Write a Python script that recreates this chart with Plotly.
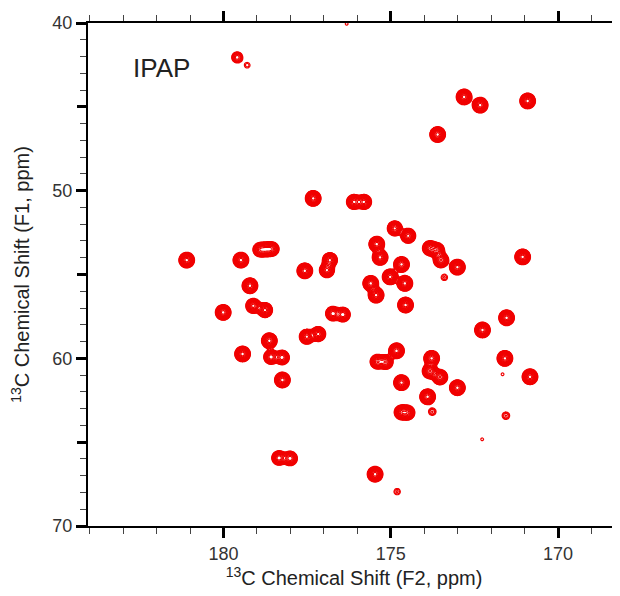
import numpy as np
import plotly.graph_objects as go

# Peak list: F2 (x, ppm), F1 (y, ppm), relative intensity
peak_f2 = [
    179.59, 179.29, 177.32, 176.10, 175.80, 181.10, 179.48, 178.91, 178.73, 178.55,
    172.81, 172.33, 170.91, 173.60, 174.88, 174.48, 175.42, 175.32, 174.68,
    173.83, 173.62, 173.50, 173.01, 173.40, 171.06, 175.02, 175.60, 174.58,
    175.44, 174.56, 176.73, 176.43, 171.54, 172.26, 174.83, 175.40, 175.15,
    173.78, 173.83, 173.53, 171.59, 170.84, 171.66, 174.68, 173.01, 173.90,
    173.76, 174.68, 174.50, 171.56, 172.27, 175.47, 174.81, 177.57, 176.82,
    176.91, 179.21, 180.01, 179.11, 178.76, 178.63, 177.51, 177.17, 179.43,
    178.58, 178.25, 178.24, 178.34, 178.01, 176.32,
]
peak_f1 = [
    42.05, 42.52, 50.46, 50.67, 50.67, 54.14, 54.14, 53.52, 53.50, 53.48,
    44.41, 44.90, 44.65, 46.65, 52.25, 52.69, 53.19, 53.98, 54.40,
    53.43, 53.55, 54.14, 54.56, 55.17, 53.95, 55.14, 55.53, 55.53,
    56.23, 56.82, 57.33, 57.39, 57.58, 58.31, 59.55, 60.20, 60.22,
    60.00, 60.76, 61.12, 60.00, 61.10, 60.95, 61.45, 61.75, 62.29,
    63.18, 63.22, 63.24, 63.42, 64.83, 66.91, 67.95, 54.78, 54.14,
    54.74, 55.67, 57.26, 56.87, 57.12, 58.95, 58.71, 58.55, 59.74,
    59.92, 59.95, 61.29, 65.94, 65.97, 40.05,
]
peak_int = [
    0.25, 0.09, 1.0, 0.8, 0.8, 1.0, 1.0, 0.6, 0.6, 0.6,
    1.0, 1.0, 1.0, 1.0, 0.8, 0.8, 1.0, 1.0, 1.0,
    0.8, 0.8, 0.9, 1.0, 0.1, 1.0, 1.0, 1.0, 1.0,
    1.0, 1.0, 0.7, 0.7, 1.0, 1.0, 1.0, 0.7, 0.7,
    1.0, 0.9, 0.9, 1.0, 1.0, 0.07, 1.0, 1.0, 1.0,
    0.12, 0.7, 0.7, 0.12, 0.07, 1.0, 0.1, 1.0, 0.8,
    0.8, 1.0, 1.0, 0.8, 0.8, 1.0, 0.8, 0.8, 1.0,
    0.7, 0.7, 1.0, 0.7, 0.7, 0.07,
]

x_ticks = [170, 175, 180]
y_ticks = [40, 50, 60, 70]
y_mid_ticks = [45, 55, 65]

# Build a 2-D spectrum from the peak list (Gaussian line shapes)
sx, sy = 0.1, 0.2
gx = np.arange(168.0, 184.3, 0.03)
gy = np.arange(39.0, 70.5, 0.06)
X, Y = np.meshgrid(gx, gy)
Z = np.zeros_like(X)
for px, py, a in zip(peak_f2, peak_f1, peak_int):
    Z += a * np.exp(-0.5 * (((X - px) / sx) ** 2 + ((Y - py) / sy) ** 2))
LZ = np.round(np.log(np.maximum(Z, 1e-5)), 3)

fig = go.Figure()
fig.add_trace(go.Contour(
    x=gx, y=gy, z=LZ,
    contours=dict(coloring="lines", start=-2.75, end=-0.06, size=0.2),
    colorscale=[[0, "#f00000"], [1, "#f00000"]],
    showscale=False, line=dict(width=1.2), hoverinfo="skip",
    line_smoothing=0.8,
))
# invisible helper trace so the mid-tick axis is drawn
fig.add_trace(go.Scatter(x=[None], y=[None], yaxis="y2", showlegend=False, hoverinfo="skip"))

font_family = "Liberation Sans, Arial, sans-serif"
fig.update_layout(
    width=612, height=588,
    margin=dict(l=80, r=0, t=15, b=70),
    paper_bgcolor="white", plot_bgcolor="white",
    font=dict(family=font_family, color="#333333", size=18),
    showlegend=False,
    xaxis=dict(
        range=[184.05, 168.15], tickvals=x_ticks, ticks="outside",
        ticklen=10, tickwidth=2.5, tickcolor="black",
        showline=True, linewidth=2, linecolor="black", mirror="ticks",
        showgrid=False, zeroline=False, automargin=False,
        minor=dict(dtick=1, ticks="outside", ticklen=6, tickwidth=1, tickcolor="#444"),
        tickfont=dict(size=18, color="#333333"),
        title=dict(text="<sup>13</sup>C Chemical Shift (F2, ppm)",
                   font=dict(size=20, color="#222222"), standoff=5),
    ),
    yaxis=dict(
        range=[70, 40], tickvals=y_ticks, ticks="outside",
        ticklen=10, tickwidth=2.5, tickcolor="black",
        showline=True, linewidth=2, linecolor="black",
        showgrid=False, zeroline=False, automargin=False,
        minor=dict(dtick=1, ticks="outside", ticklen=6, tickwidth=1, tickcolor="#444"),
        tickfont=dict(size=18, color="#333333"),
        title=dict(text="<sup>13</sup>C Chemical Shift (F1, ppm)",
                   font=dict(size=20, color="#222222"), standoff=21),
    ),
    yaxis2=dict(
        overlaying="y", matches="y", side="left", range=[70, 40],
        tickvals=y_mid_ticks, ticks="outside", ticklen=10, tickwidth=2.5,
        tickcolor="black", showticklabels=False, showline=False,
        showgrid=False, zeroline=False, automargin=False,
    ),
    annotations=[dict(
        x=181.84, y=42.7, xref="x", yref="y", text="IPAP", showarrow=False,
        font=dict(size=26, color="#222222", family=font_family),
    )],
)

fig.write_html("out.html")
